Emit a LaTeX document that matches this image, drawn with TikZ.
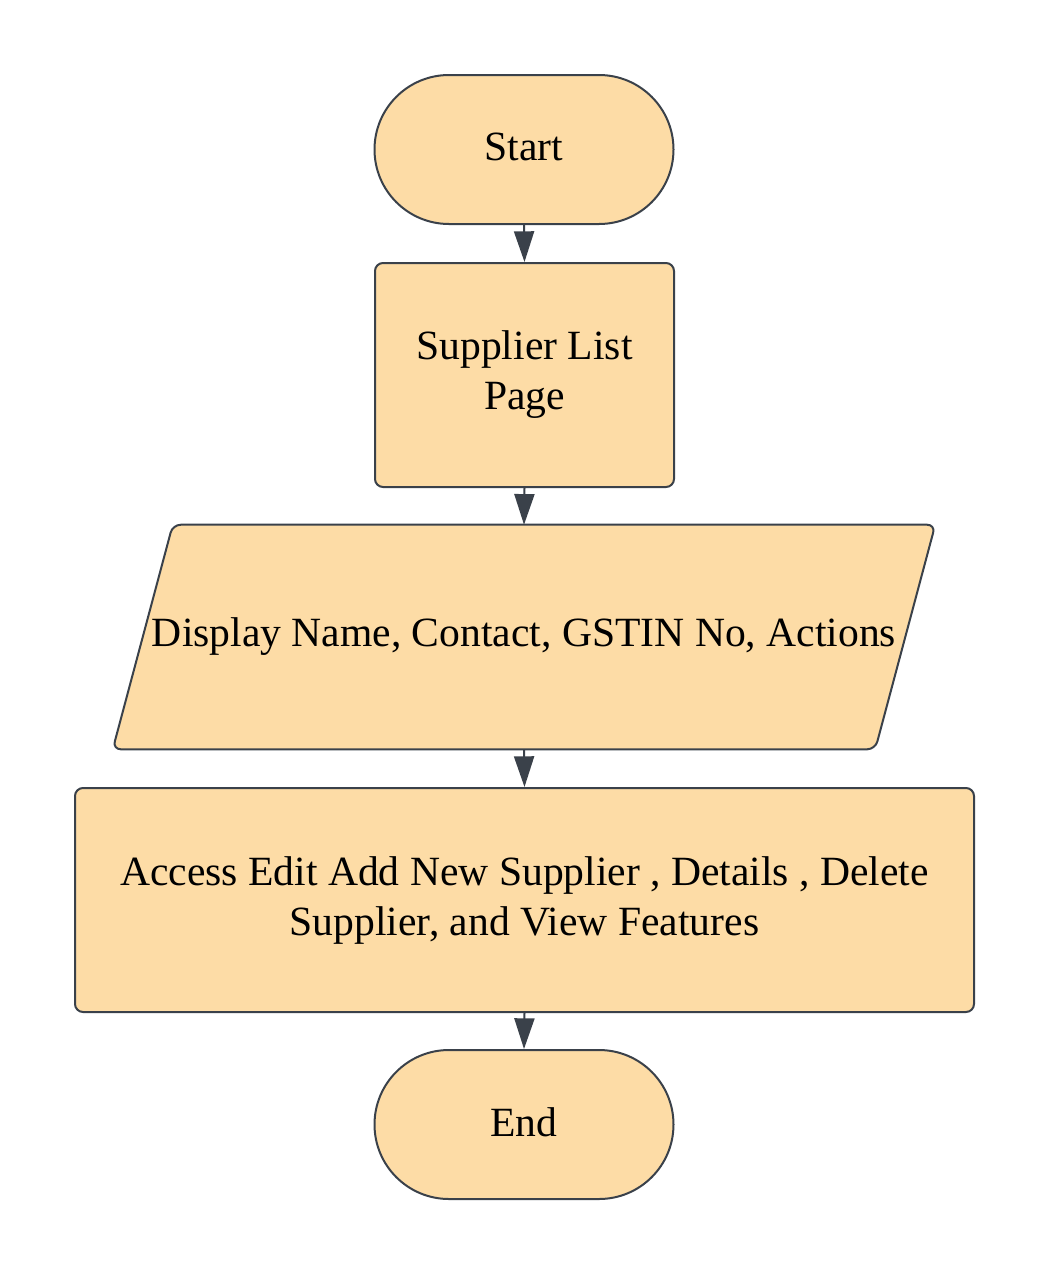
\documentclass[tikz,border=0pt]{standalone}
\usepackage{fontspec}
\setmainfont{Liberation Serif}
\usetikzlibrary{arrows.meta,shapes.misc,backgrounds,calc}
\definecolor{fillc}{HTML}{FDDCA6}
\definecolor{linec}{HTML}{3A414A}
\begin{document}
\begin{tikzpicture}[x=0.75pt,y=-0.75pt,
  txt/.style={font=\fontsize{31.2}{37.5}\selectfont, align=center, inner sep=0pt},
  box/.style={txt, draw=linec, fill=fillc, line width=1.5pt, rounded corners=6pt},
  term/.style={txt, draw=linec, fill=fillc, line width=1.5pt, rounded rectangle,
    minimum width=224.25pt, minimum height=111.75pt},
  arr/.style={draw=linec, line width=1.5pt, -{Triangle[width=15pt,length=23pt]}}]
\useasboundingbox (0,0) rectangle (1050,1275);
\node[term] (start) at (524,149.5) {\raisebox{4pt}{Start}};
\node[box, minimum width=224.25pt, minimum height=168pt] (list) at (524.5,375) {Supplier List\\Page};
\node[txt, minimum width=616.5pt, minimum height=168pt] (disp) at (524,637) {\raisebox{7pt}{Display Name, Contact, GSTIN No, Actions}};
\begin{scope}[on background layer]
\draw[draw=linec, fill=fillc, line width=1.5pt, rounded corners=6pt]
  ($(disp.north west)+(60,0)$) -- (disp.north east) -- ($(disp.south east)-(60,0)$) -- (disp.south west) -- cycle;
\end{scope}
\node[box, minimum width=674.25pt, minimum height=168pt] (acc) at (524.5,900) {Access Edit Add New Supplier , Details , Delete\\Supplier, and View Features};
\node[term] (end) at (524,1124.5) {\raisebox{4pt}{End}};
\draw[arr] (start.south) -- (list.north);
\draw[arr] (list.south) -- (disp.north);
\draw[arr] (disp.south) -- (acc.north);
\draw[arr] (acc.south) -- (end.north);
\end{tikzpicture}
\end{document}
